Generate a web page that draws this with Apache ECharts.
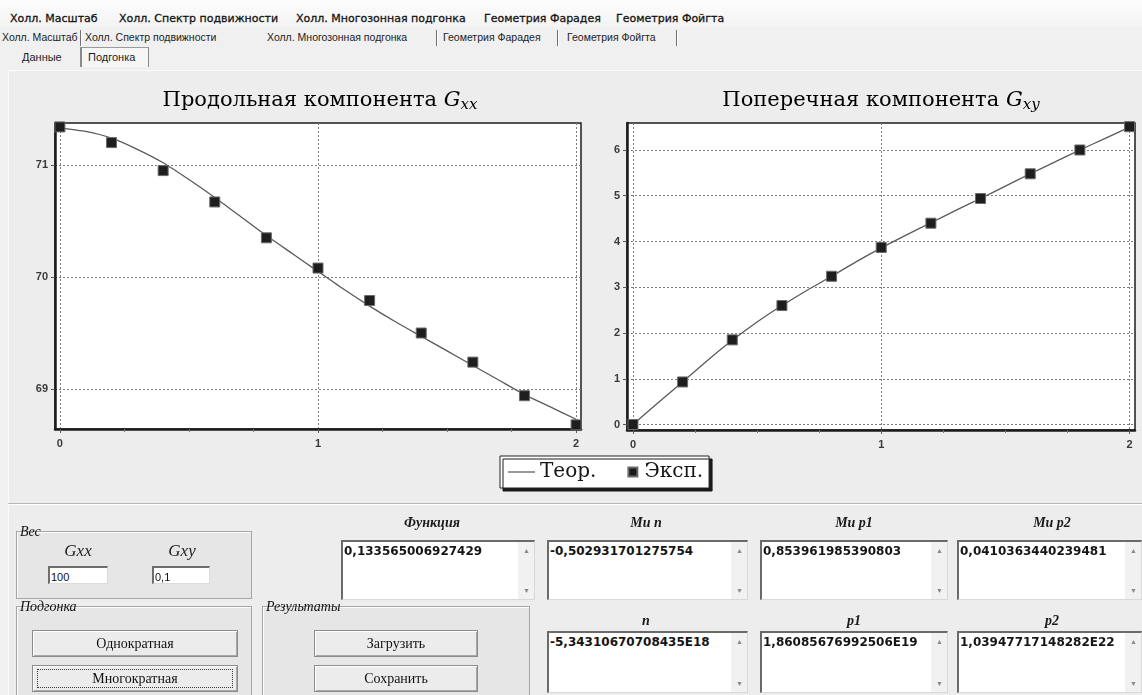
<!DOCTYPE html>
<html lang="ru">
<head>
<meta charset="utf-8">
<title>Холл. Многозонная подгонка</title>
<script src="https://cdn.jsdelivr.net/npm/echarts@6.0.0/dist/echarts.min.js"></script>
<style>
  html, body { margin: 0; padding: 0; }
  body { width: 1142px; height: 695px; overflow: hidden; position: relative; background: #f0f0f0;
         font-family: "Liberation Sans", sans-serif; color: #111; }
  .a { position: absolute; white-space: nowrap; }
  #menubar { left: 0; top: 0; width: 1142px; height: 27px; background: linear-gradient(#fdfdfd, #f3f3f3); }
  .menu { font-family: "DejaVu Sans", sans-serif; font-size: 11px; top: 12px; color: #141414; -webkit-text-stroke: 0.3px #141414; }
  .tab { font-size: 10.5px; top: 31px; color: #1d1d1d; }
  .tabsep { top: 30px; width: 1px; height: 16px; background: #707070; box-shadow: 1px 0 0 #fff; }
  .sub { font-size: 11px; top: 51px; color: #1d1d1d; }
  #subbox { left: 80px; top: 47px; width: 66px; height: 19px; border-left: 2px solid #8a8a8a; border-top: 1px solid #9a9a9a;
            border-right: 1px solid #8a8a8a; background: #f6f6f6; }
  #page { left: 8px; top: 70px; width: 1134px; height: 625px; background: #ededed; border-left: 1px solid #fbfbfb; border-top: 1px solid #fbfbfb; }
  #chart { left: 0; top: 0; width: 1142px; height: 695px; }
  #sep { left: 8px; top: 503px; width: 1134px; height: 0; border-top: 1px solid #b5b5b5; border-bottom: 1px solid #fff; }
  .grp { border: 1px solid #a6a6a6; box-shadow: inset 1px 1px 0 #fbfbfb; background: #e6e6e6; }
  .gcap { font-family: "Liberation Serif", serif; font-style: italic; font-size: 14px; color: #111; }
  .glab { font-family: "Liberation Serif", serif; font-style: italic; font-size: 17px; color: #222; transform: translateX(-50%); }
  .inp { height: 18px; background: #fff; border-top: 2px solid #6d6d6d; border-left: 2px solid #6d6d6d;
         border-right: 1px solid #dcdcdc; border-bottom: 1px solid #dcdcdc; font-size: 11px; line-height: 18px; padding-left: 1px; box-sizing: border-box; }
  .btn { background: #ececec; border: 1px solid #8c8c8c; box-shadow: inset 1px 1px 0 #fff, inset -1px -1px 0 #a8a8a8;
         font-family: "Liberation Serif", serif; font-size: 14px; text-align: center; box-sizing: border-box; color: #111; }
  .focus { border: 1px dotted #3a3a3a; position: absolute; left: 4px; top: 3px; right: 4px; bottom: 3px; }
  .head { font-family: "Liberation Serif", serif; font-style: italic; font-weight: bold; font-size: 14px; color: #1a1a1a; transform: translateX(-50%); }
  .memo { background: #fff; border-top: 2px solid #6a6a6a; border-left: 2px solid #6a6a6a; border-right: 1px solid #d8d8d8;
          border-bottom: 1px solid #d8d8d8; box-sizing: border-box; overflow: hidden; }
  .memo .v { position: absolute; left: 1px; top: 2px; font-family: "DejaVu Sans", sans-serif; font-weight: bold; font-size: 12px; color: #151515; white-space: nowrap; }
  .memo .sb { position: absolute; right: 0; top: 0; bottom: 0; width: 16px; background: #f1f1f1; }
  .memo .up, .memo .dn { position: absolute; left: 5px; font-size: 7px; color: #8a8a8a; }
  .memo .up { top: 5px; }
  .memo .dn { bottom: 5px; }
</style>
</head>
<body>
<div class="a" id="menubar"></div>
<div class="a menu" style="left:10px">Холл. Масштаб</div>
<div class="a menu" style="left:119px">Холл. Спектр подвижности</div>
<div class="a menu" style="left:296px">Холл. Многозонная подгонка</div>
<div class="a menu" style="left:484px">Геометрия Фарадея</div>
<div class="a menu" style="left:616px">Геометрия Фойгта</div>

<div class="a tab" style="left:2px">Холл. Масштаб</div>
<div class="a tabsep" style="left:80px"></div>
<div class="a tab" style="left:85px">Холл. Спектр подвижности</div>
<div class="a tab" style="left:267px">Холл. Многозонная подгонка</div>
<div class="a tabsep" style="left:436px"></div>
<div class="a tab" style="left:443px">Геометрия Фарадея</div>
<div class="a tabsep" style="left:557px"></div>
<div class="a tab" style="left:567px">Геометрия Фойгта</div>
<div class="a tabsep" style="left:676px"></div>

<div class="a sub" style="left:22px">Данные</div>
<div class="a" id="subbox"></div>
<div class="a sub" style="left:88px">Подгонка</div>

<div class="a" id="page"></div>
<div class="a" id="chart"></div>
<div class="a" id="sep"></div>

<!-- weights -->
<div class="a grp" style="left:16px;top:531px;width:234px;height:66px"></div>
<div class="a gcap" style="left:20px;top:524px">Вес</div>
<div class="a glab" style="left:78px;top:541px">Gxx</div>
<div class="a glab" style="left:182px;top:541px">Gxy</div>
<div class="a inp" style="left:48px;top:566px;width:60px">100</div>
<div class="a inp" style="left:152px;top:566px;width:58px">0,1</div>

<!-- fitting -->
<div class="a grp" style="left:16px;top:606px;width:234px;height:92px"></div>
<div class="a gcap" style="left:20px;top:599px">Подгонка</div>
<div class="a btn" style="left:32px;top:630px;width:206px;height:27px;line-height:25px">Однократная</div>
<div class="a btn" style="left:32px;top:665px;width:206px;height:27px;line-height:25px"><div class="focus"></div>Многократная</div>

<!-- results -->
<div class="a grp" style="left:262px;top:606px;width:266px;height:92px"></div>
<div class="a gcap" style="left:266px;top:599px">Результаты</div>
<div class="a btn" style="left:314px;top:630px;width:164px;height:27px;line-height:25px">Загрузить</div>
<div class="a btn" style="left:314px;top:665px;width:164px;height:27px;line-height:25px">Сохранить</div>

<!-- parameter fields -->
<div class="a head" style="left:432px;top:515px">Функция</div>
<div class="a head" style="left:646px;top:515px">Mu n</div>
<div class="a head" style="left:854px;top:515px">Mu p1</div>
<div class="a head" style="left:1052px;top:515px">Mu p2</div>
<div class="a memo" style="left:341px;top:540px;width:194px;height:60px"><span class="v">0,133565006927429</span><div class="sb"><span class="up">▲</span><span class="dn">▼</span></div></div>
<div class="a memo" style="left:547px;top:540px;width:201px;height:60px"><span class="v">-0,502931701275754</span><div class="sb"><span class="up">▲</span><span class="dn">▼</span></div></div>
<div class="a memo" style="left:760px;top:540px;width:188px;height:60px"><span class="v">0,853961985390803</span><div class="sb"><span class="up">▲</span><span class="dn">▼</span></div></div>
<div class="a memo" style="left:957px;top:540px;width:185px;height:60px"><span class="v">0,0410363440239481</span><div class="sb"><span class="up">▲</span><span class="dn">▼</span></div></div>

<div class="a head" style="left:646px;top:613px">n</div>
<div class="a head" style="left:854px;top:613px">p1</div>
<div class="a head" style="left:1052px;top:613px">p2</div>
<div class="a memo" style="left:547px;top:631px;width:201px;height:62px"><span class="v">-5,34310670708435E18</span><div class="sb"><span class="up">▲</span><span class="dn">▼</span></div></div>
<div class="a memo" style="left:760px;top:631px;width:188px;height:62px"><span class="v">1,86085676992506E19</span><div class="sb"><span class="up">▲</span><span class="dn">▼</span></div></div>
<div class="a memo" style="left:957px;top:631px;width:185px;height:62px"><span class="v">1,03947717148282E22</span><div class="sb"><span class="up">▲</span><span class="dn">▼</span></div></div>

<script>
// Magnetic field values of the measured points and of the model curve
const expX   = [0, 0.2, 0.4, 0.6, 0.8, 1.0, 1.2, 1.4, 1.6, 1.8, 2.0];
const theoX  = [0, 0.1, 0.2, 0.3, 0.4, 0.5, 0.6, 0.7, 0.8, 0.9, 1.0,
                1.1, 1.2, 1.3, 1.4, 1.5, 1.6, 1.7, 1.8, 1.9, 2.0];

// Longitudinal component Gxx
const gxxExp  = [71.34, 71.20, 70.95, 70.67, 70.35, 70.08, 69.79, 69.50, 69.24, 68.94, 68.68];
const gxxTheo = [71.33, 71.30, 71.24, 71.14, 71.02, 70.87, 70.71, 70.54, 70.37, 70.21, 70.05,
                 69.89, 69.74, 69.60, 69.47, 69.34, 69.21, 69.08, 68.95, 68.84, 68.73];

// Transverse component Gxy
const gxyExp  = [0.00, 0.93, 1.85, 2.60, 3.24, 3.87, 4.40, 4.94, 5.48, 6.00, 6.51];
const gxyTheo = [0.00, 0.47, 0.93, 1.40, 1.84, 2.24, 2.60, 2.93, 3.24, 3.56, 3.86,
                 4.14, 4.41, 4.68, 4.94, 5.21, 5.48, 5.74, 6.00, 6.25, 6.50];

// Tick values
const xMajorTicks = [0, 1, 2];
const xMinorTicks = [0.25, 0.5, 0.75, 1.25, 1.5, 1.75];
const gxxTicks = [69, 70, 71];
const gxyTicks = [0, 1, 2, 3, 4, 5, 6];

// Labels
const seriesNames = ['Теор.', 'Эксп.'];
const titleGxx = 'Продольная компонента ';
const titleGxy = 'Поперечная компонента ';

// Axis ranges
const xRangeGxx = [-0.019, 2.019];
const xRangeGxy = [-0.024, 2.022];
const yRangeGxx = [68.643, 71.375];
const yRangeGxy = [-0.12, 6.59];

const zip = (xs, ys) => xs.map((x, i) => [x, ys[i]]);

const gridLine = { show: true, lineStyle: { color: '#7c7c7c', width: 1, type: [2, 2] } };
const tickLabel = { color: '#3a3a3a', fontSize: 11, fontFamily: 'Liberation Sans', fontWeight: 'bold' };

function mainX(grid, range) {
  return {
    type: 'value', gridIndex: grid, min: range[0], max: range[1], position: 'bottom',
    axisLine: { show: true, onZero: false, lineStyle: { color: '#1c1c1c', width: 2.5 } },
    axisTick: { show: true, customValues: xMajorTicks, length: 4, lineStyle: { color: '#555' } },
    axisLabel: Object.assign({ customValues: xMajorTicks, margin: 9 }, tickLabel),
    splitLine: gridLine
  };
}
function minorX(grid, range) {
  return {
    type: 'value', gridIndex: grid, min: range[0], max: range[1], position: 'bottom',
    axisLine: { show: false, onZero: false },
    axisTick: { show: true, customValues: xMinorTicks, length: 3, lineStyle: { color: '#777' } },
    axisLabel: { show: false },
    splitLine: { show: false }
  };
}
function mainY(grid, range, ticks) {
  return {
    type: 'value', gridIndex: grid, min: range[0], max: range[1],
    axisLine: { show: true, onZero: false, lineStyle: { color: '#1c1c1c', width: 2.5 } },
    axisTick: { show: true, customValues: ticks, length: 4, lineStyle: { color: '#555' } },
    axisLabel: Object.assign({ customValues: ticks, margin: 7 }, tickLabel),
    splitLine: gridLine
  };
}
function theoSeries(xi, yi, ys) {
  return {
    name: seriesNames[0], type: 'line', xAxisIndex: xi, yAxisIndex: yi,
    data: zip(theoX, ys), showSymbol: false, smooth: 0.2, z: 3,
    color: '#4a4a4a', lineStyle: { color: '#5a5a5a', width: 1.3 }
  };
}
function expSeries(xi, yi, ys) {
  return {
    name: seriesNames[1], type: 'scatter', xAxisIndex: xi, yAxisIndex: yi,
    data: zip(expX, ys), symbol: 'rect', symbolSize: 10, z: 4,
    color: '#1e1e1e', itemStyle: { color: '#1e1e1e', borderColor: '#6a6a6a', borderWidth: 1, opacity: 1 }
  };
}
function titleText(x, main, sub) {
  return {
    type: 'text', x: x, y: 101, z: 10,
    style: {
      text: '{t|' + main + '}{g|G}{s|' + sub + '}',
      align: 'center', verticalAlign: 'middle',
      rich: {
        t: { fontFamily: 'DejaVu Serif', fontSize: 21, color: '#151515' },
        g: { fontFamily: 'DejaVu Serif', fontStyle: 'italic', fontSize: 21, color: '#151515' },
        s: { fontFamily: 'DejaVu Serif', fontStyle: 'italic', fontSize: 15, color: '#151515', padding: [9, 0, 0, 0] }
      }
    }
  };
}

const chart = echarts.init(document.getElementById('chart'), null, { renderer: 'canvas' });
chart.setOption({
  backgroundColor: 'transparent',
  animation: false,
  grid: [
    { left: 55, top: 123, width: 526, height: 306, show: true, backgroundColor: '#fff', borderColor: '#1c1c1c', borderWidth: 1.5 },
    { left: 627, top: 123, width: 508, height: 307, show: true, backgroundColor: '#fff', borderColor: '#1c1c1c', borderWidth: 1.5 }
  ],
  xAxis: [mainX(0, xRangeGxx), minorX(0, xRangeGxx), mainX(1, xRangeGxy), minorX(1, xRangeGxy)],
  yAxis: [mainY(0, yRangeGxx, gxxTicks), mainY(1, yRangeGxy, gxyTicks)],
  legend: {
    left: 500, top: 456, selectedMode: false,
    data: [
      { name: seriesNames[0], icon: 'path://M0,4.5H27V5.5H0Z', itemStyle: { color: '#333' } },
      { name: seriesNames[1], icon: 'path://M0,0M16,0.5H25V9.5H16ZM27,10', itemStyle: { color: '#1a1a1a' } }
    ],
    itemWidth: 27, itemHeight: 10, itemGap: 15,
    textStyle: { fontFamily: 'DejaVu Serif', fontSize: 20, color: '#151515' },
    backgroundColor: '#fff', borderColor: '#222', borderWidth: 1,
    padding: [6, 6, 6, 8],
    shadowColor: '#1a1a1a', shadowOffsetX: 3, shadowOffsetY: 3, shadowBlur: 0
  },
  graphic: [titleText(320, titleGxx, 'xx'), titleText(881, titleGxy, 'xy')],
  series: [
    theoSeries(0, 0, gxxTheo), expSeries(0, 0, gxxExp),
    theoSeries(2, 1, gxyTheo), expSeries(2, 1, gxyExp)
  ]
});
</script>
</body>
</html>
